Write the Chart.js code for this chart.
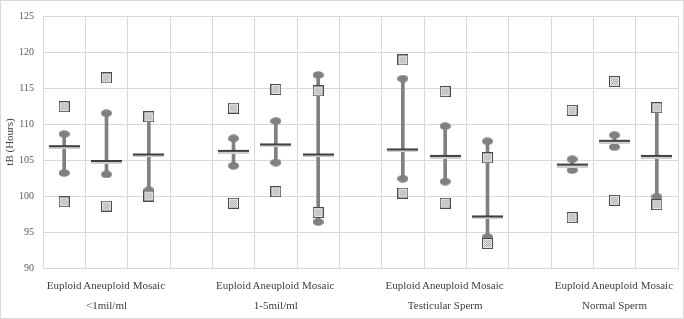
<!DOCTYPE html>
<html>
<head>
<meta charset="utf-8">
<script src="https://cdn.jsdelivr.net/npm/chart.js@4.4.1/dist/chart.umd.min.js"></script>
<style>
  body { margin: 0; background: #fff; }
  #wrap { width: 684px; height: 319px; border: 1px solid #d9d9d9; box-sizing: border-box; }
</style>
</head>
<body>
<div id="wrap"><canvas id="myChart" width="682" height="317"></canvas></div>
<script>
const subtypes = ['Euploid', 'Aneuploid', 'Mosaic']
const groups = ['<1mil/ml', '1-5mil/ml', 'Testicular Sperm', 'Normal Sperm']

// values per group: Euploid, Aneuploid, Mosaic
const meanVals  = [[106.85, 104.8, 105.7], [106.2, 107.1, 105.7], [106.4, 105.5, 97.1], [104.3, 107.6, 105.5]]
const upperVals = [[108.6, 111.5, 111.0], [108.0, 110.4, 116.8], [116.3, 109.7, 107.6], [105.1, 108.45, 112.1]]
const lowerVals = [[103.2, 103.0, 100.8], [104.2, 104.65, 96.4], [102.4, 102.0, 94.3], [103.6, 106.8, 99.9]]
const maxVals   = [[112.4, 116.4, 111.0], [112.2, 114.8, 114.6], [118.9, 114.5, 105.3], [111.9, 115.9, 112.25]]
const minVals   = [[99.2, 98.6, 100.0], [99.0, 100.6, 97.7], [100.4, 99.0, 93.4], [97.0, 99.4, 98.8]]

const yTicks = { min: 90, max: 125, step: 5 }

// flatten groups with an empty slot between them
let labels = []
function spread(vals){
    let out = []
    vals.forEach((g, gi) => {
        g.forEach(v => out.push(v))
        if(gi < vals.length - 1) out.push(null)
    })
    return out
}
groups.forEach((g, gi) => {
    subtypes.forEach((s, si) => {
        labels.push(si === 1 ? [s, g] : s)
    })
    if(gi < groups.length - 1) labels.push('')
})

const upper = spread(upperVals)
const lower = spread(lowerVals)
const ranges = upper.map((u, i) => u === null ? null : [lower[i], u])

// point images
function makeSquare(){
    let c = document.createElement('canvas')
    c.width = 11; c.height = 11
    let g = c.getContext('2d')
    g.fillStyle = '#e6e6e6'
    g.fillRect(0, 0, 11, 11)
    g.fillStyle = '#ababab'
    for(let y = 2; y < 9; y++){
        for(let x = 2; x < 9; x++){
            if((x + y) % 2 === 0) g.fillRect(x, y, 1, 1)
        }
    }
    g.strokeStyle = '#4a4a4a'
    g.lineWidth = 1
    g.strokeRect(0.5, 0.5, 10, 10)
    return c
}
function makeDot(){
    let c = document.createElement('canvas')
    c.width = 11; c.height = 8
    let g = c.getContext('2d')
    g.fillStyle = '#808080'
    g.beginPath()
    g.ellipse(5.5, 4, 5.5, 3.8, 0, 0, Math.PI * 2)
    g.fill()
    return c
}
function makeMean(){
    let c = document.createElement('canvas')
    c.width = 31; c.height = 5
    let g = c.getContext('2d')
    g.fillStyle = '#404040'
    g.fillRect(0, 1, 31, 2)
    g.fillStyle = '#cfcfcf'
    g.fillRect(0, 3, 31, 2)
    return c
}

const fontFam = '"Liberation Serif", "Times New Roman", serif'
const ctx = document.getElementById('myChart')

new Chart(ctx, {
    type: 'bar',
    data: {
        labels: labels,
        datasets: [
            {
                type: 'bar',
                data: ranges,
                backgroundColor: '#808080',
                barThickness: 3,
                order: 5
            },
            {
                type: 'line',
                data: upper,
                showLine: false,
                pointStyle: makeDot(),
                order: 4
            },
            {
                type: 'line',
                data: lower,
                showLine: false,
                pointStyle: makeDot(),
                order: 4
            },
            {
                type: 'line',
                data: spread(meanVals),
                showLine: false,
                pointStyle: makeMean(),
                order: 3
            },
            {
                type: 'line',
                data: spread(maxVals),
                showLine: false,
                pointStyle: makeSquare(),
                order: 1
            },
            {
                type: 'line',
                data: spread(minVals),
                showLine: false,
                pointStyle: makeSquare(),
                order: 1
            }
        ]
    },
    options: {
        responsive: false,
        animation: false,
        layout: { padding: { top: 12, right: 3, left: 0, bottom: 0 } },
        plugins: {
            legend: { display: false },
            tooltip: { enabled: false }
        },
        scales: {
            x: {
                offset: true,
                grid: { color: '#d9d9d9', offset: true, drawTicks: false },
                border: { color: '#d9d9d9' },
                ticks: {
                    autoSkip: false,
                    maxRotation: 0,
                    padding: 8,
                    color: '#404040',
                    font: { family: fontFam, size: 11, lineHeight: '20px' }
                },
                afterFit: function(scale){ scale.height = 50 }
            },
            y: {
                min: yTicks.min,
                max: yTicks.max,
                grid: { color: '#d9d9d9', drawTicks: false },
                border: { color: '#d9d9d9' },
                ticks: {
                    stepSize: yTicks.step,
                    padding: 9,
                    color: '#595959',
                    font: { family: fontFam, size: 10 }
                },
                title: {
                    display: true,
                    text: 'tB (Hours)',
                    color: '#404040',
                    padding: { top: 3, bottom: 2 },
                    font: { family: fontFam, size: 11 }
                },
                afterFit: function(scale){ scale.width = 42 }
            }
        }
    }
})
</script>
</body>
</html>
